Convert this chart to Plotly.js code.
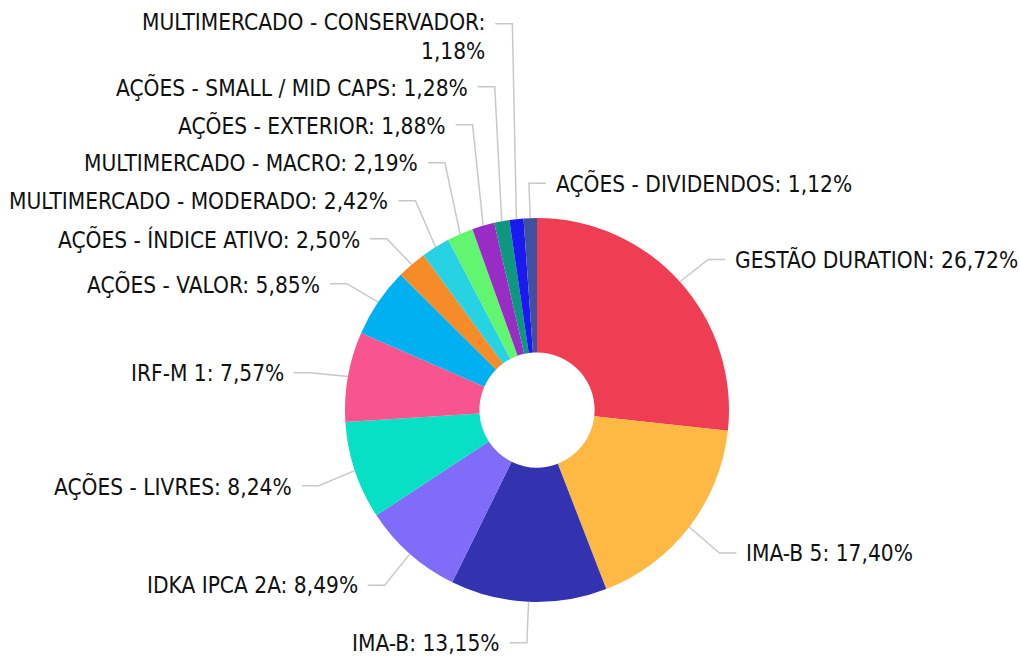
<!DOCTYPE html>
<html><head><meta charset="utf-8">
<script src="https://cdn.plot.ly/plotly-3.0.1.min.js"></script>
<style>html,body{margin:0;padding:0;background:#fff}</style>
</head><body><div id="chart" style="width:1020px;height:659px"></div>
<script>
const categories = [
  "GESTÃO DURATION", "IMA-B 5", "IMA-B", "IDKA IPCA 2A", "AÇÕES - LIVRES",
  "IRF-M 1", "AÇÕES - VALOR", "AÇÕES - ÍNDICE ATIVO", "MULTIMERCADO - MODERADO",
  "MULTIMERCADO - MACRO", "AÇÕES - EXTERIOR", "AÇÕES - SMALL / MID CAPS",
  "MULTIMERCADO - CONSERVADOR", "AÇÕES - DIVIDENDOS"
];
const values = [26.72, 17.40, 13.15, 8.49, 8.24, 7.57, 5.85, 2.50, 2.42, 2.19, 1.88, 1.28, 1.18, 1.12];
const colors = [
  "#EF3D54", "#FEB944", "#3333B2", "#7F6CF9", "#07E0C5",
  "#F8548D", "#00B0F1", "#F58C28", "#27D2E3", "#62F56F",
  "#982CC4", "#0C977E", "#1919F0", "#3E509E"
];

// layout geometry (pixels)
const W = 1020, H = 659;
const CX = 537, CY = 410, R_OUT = 192, HOLE = 0.3;
const R_LABEL = 230, LABEL_DY = 3, SEG = 17, GAP = 8, SLOT = 38, LINE_H = 25;
const FONT = {family: "DejaVu Sans Condensed, DejaVu Sans, sans-serif", size: 22.5, color: "#111"};
const LINE_COLOR = "#c8c8c8";

const px = x => x / W;
const py = y => 1 - y / H;

const total = values.reduce((a, b) => a + b, 0);
let cum = 0;
const items = values.map((v, i) => {
  const th = 2 * Math.PI * (cum + v / 2) / total;
  cum += v;
  const deg = th * 180 / Math.PI;
  const right = deg < 180 || deg > 355;
  let txt = categories[i] + ": " + v.toFixed(2).replace(".", ",") + "%";
  let lines = 1;
  if (txt.length > 31) { txt = categories[i] + ":<br>" + v.toFixed(2).replace(".", ",") + "%"; lines = 2; }
  return {
    i, th, right, txt, lines,
    ex: CX + R_OUT * Math.sin(th), ey: CY - R_OUT * Math.cos(th),
    kx: CX + R_LABEL * Math.sin(th), ly: CY + LABEL_DY - R_LABEL * Math.cos(th)
  };
});

// resolve overlaps: push labels up from the bottom on each side
[true, false].forEach(side => {
  const arr = items.filter(d => d.right === side).sort((a, b) => b.ly - a.ly);
  for (let k = 1; k < arr.length; k++) {
    const lim = arr[k - 1].ly - SLOT - LINE_H * (arr[k].lines - 1);
    if (arr[k].ly > lim) arr[k].ly = lim;
  }
});

const shapes = items.map(d => {
  const hx = d.right ? d.kx + SEG : d.kx - SEG;
  return {
    type: "path", xref: "paper", yref: "paper",
    path: `M ${px(d.ex)} ${py(d.ey)} L ${px(d.kx)} ${py(d.ly)} L ${px(hx)} ${py(d.ly)}`,
    line: {color: LINE_COLOR, width: 1.5}
  };
});

const annotations = items.map(d => {
  const tx = d.right ? d.kx + SEG + GAP : d.kx - SEG - GAP;
  return {
    xref: "paper", yref: "paper",
    x: px(tx), y: py(d.ly + (d.lines - 1) * LINE_H / 2),
    xanchor: d.right ? "left" : "right", yanchor: "middle",
    align: d.right ? "left" : "right",
    text: d.txt, showarrow: false, font: FONT
  };
});

const trace = {
  type: "pie",
  labels: categories,
  values: values,
  sort: false,
  direction: "clockwise",
  rotation: 0,
  hole: HOLE,
  marker: {colors: colors, line: {width: 0}},
  textinfo: "none",
  hoverinfo: "none",
  domain: {x: [px(CX - R_OUT), px(CX + R_OUT)], y: [py(CY + R_OUT), py(CY - R_OUT)]}
};

const layout = {
  width: W, height: H,
  margin: {l: 0, r: 0, t: 0, b: 0},
  showlegend: false,
  paper_bgcolor: "#fff",
  font: FONT,
  shapes: shapes,
  annotations: annotations
};

Plotly.newPlot("chart", [trace], layout, {displayModeBar: false, staticPlot: true});
</script>
</body></html>
